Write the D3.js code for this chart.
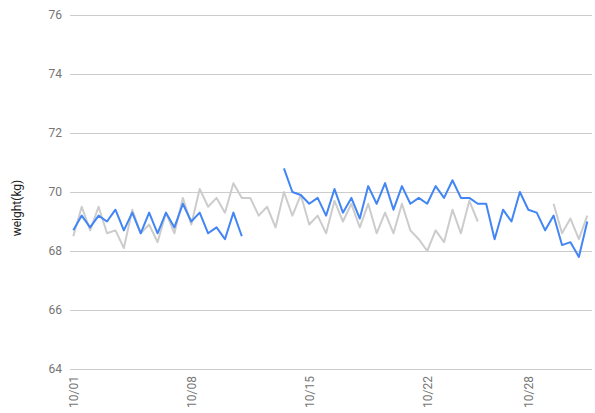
<!DOCTYPE html>
<html><head><meta charset="utf-8">
<script src="https://cdn.jsdelivr.net/npm/d3@7"></script>
<style>html,body{margin:0;padding:0;background:#fff;}svg{display:block;font-family:Roboto,Arial,sans-serif;}</style>
</head><body><svg id="c" width="595" height="413"></svg>
<script>
const times = ["10/01 00:00","10/01 12:00","10/02 00:00","10/02 12:00","10/03 00:00","10/03 12:00","10/04 00:00","10/04 12:00","10/05 00:00","10/05 12:00","10/06 00:00","10/06 12:00","10/07 00:00","10/07 12:00","10/08 00:00","10/08 12:00","10/09 00:00","10/09 12:00","10/10 00:00","10/10 12:00","10/11 00:00","10/11 12:00","10/12 00:00","10/12 12:00","10/13 00:00","10/13 12:00","10/14 00:00","10/14 12:00","10/15 00:00","10/15 12:00","10/16 00:00","10/16 12:00","10/17 00:00","10/17 12:00","10/18 00:00","10/18 12:00","10/19 00:00","10/19 12:00","10/20 00:00","10/20 12:00","10/21 00:00","10/21 12:00","10/22 00:00","10/22 12:00","10/23 00:00","10/23 12:00","10/24 00:00","10/24 12:00","10/25 00:00","10/25 12:00","10/26 00:00","10/26 12:00","10/27 00:00","10/27 12:00","10/28 00:00","10/28 12:00","10/29 00:00","10/29 12:00","10/30 00:00","10/30 12:00","10/31 00:00","10/31 12:00"];
const blueSeries = [68.7,69.2,68.8,69.2,69.0,69.4,68.7,69.3,68.6,69.3,68.6,69.3,68.8,69.6,69.0,69.3,68.6,68.8,68.4,69.3,68.5,
  null,null,null,null,
  70.8,70.0,69.9,69.6,69.8,69.2,70.1,69.3,69.8,69.1,70.2,69.6,70.3,69.4,
  70.2,69.6,69.8,69.6,70.2,69.8,70.4,69.8,69.8,69.6,69.6,68.4,69.4,69.0,70.0,69.4,69.3,68.7,69.2,68.2,68.3,67.8,69.0];
const graySeries = [68.5,69.5,68.7,69.5,68.6,68.7,68.1,69.4,68.6,68.9,68.3,69.3,68.6,69.8,68.9,70.1,69.5,69.8,69.3,
  70.3,69.8,69.8,69.2,69.5,68.8,70.0,69.2,69.9,68.9,69.2,68.6,69.7,69.0,69.6,68.8,69.6,68.6,69.3,68.6,
  69.6,68.7,68.4,68.0,68.7,68.3,69.4,68.6,69.7,69.0,
  null,null,null,null,null,null,null,null,
  69.6,68.6,69.1,68.4,69.2];
const xTickLabels = ["10/01","10/08","10/15","10/22","10/28"];
const yTicks = [64,66,68,70,72,74,76];
const yTitle = "weight(kg)";
const YEAR = 2017;

const parse = s => { const [md, hm] = s.split(" "); const [m, d] = md.split("/").map(Number); const [h, mi] = hm.split(":").map(Number); return new Date(Date.UTC(YEAR, m - 1, d, h, mi)); };
const dates = times.map(parse);

const svg = d3.select("#c");
const gridL = 70, gridR = 592;
const x = d3.scaleUtc().domain([dates[0], dates[dates.length - 1]]).range([73.3, 587.3]);
const y = d3.scaleLinear().domain([64, 76]).range([369, 15]);

const yAxis = svg.append("g").attr("transform", `translate(${gridR},0)`)
  .call(d3.axisLeft(y).tickValues(yTicks).tickSize(gridR - gridL).tickPadding(8).tickFormat(d3.format("d")));
yAxis.select(".domain").remove();
yAxis.selectAll("line").attr("stroke", "#cccccc").attr("stroke-width", 1);
yAxis.selectAll("text").attr("fill", "#757575").attr("font-size", 12).attr("font-family", "Roboto, Arial, sans-serif");

const xAxis = svg.append("g").attr("transform", "translate(0,369)")
  .call(d3.axisBottom(x).tickValues(xTickLabels.map(s => parse(s + " 00:00"))).tickSize(0).tickFormat((d, i) => xTickLabels[i]));
xAxis.select(".domain").remove();
xAxis.selectAll("text")
  .attr("transform", "rotate(-90)")
  .attr("text-anchor", "end")
  .attr("x", -7).attr("y", 0).attr("dy", "0.35em")
  .attr("fill", "#757575").attr("font-size", 12).attr("font-family", "Roboto, Arial, sans-serif");

svg.append("text").attr("transform", "translate(21,208) rotate(-90)")
  .attr("text-anchor", "middle").attr("font-size", 12).attr("fill", "#222")
  .text(yTitle);

const line = d3.line().defined(d => d[1] != null).x(d => x(d[0])).y(d => y(d[1]));
svg.append("path").datum(dates.map((d, i) => [d, graySeries[i]]))
  .attr("d", line).attr("fill", "none").attr("stroke", "#cccccc").attr("stroke-width", 2).attr("stroke-linejoin", "round");
svg.append("path").datum(dates.map((d, i) => [d, blueSeries[i]]))
  .attr("d", line).attr("fill", "none").attr("stroke", "#4285f4").attr("stroke-width", 2).attr("stroke-linejoin", "round");
</script></body></html>
